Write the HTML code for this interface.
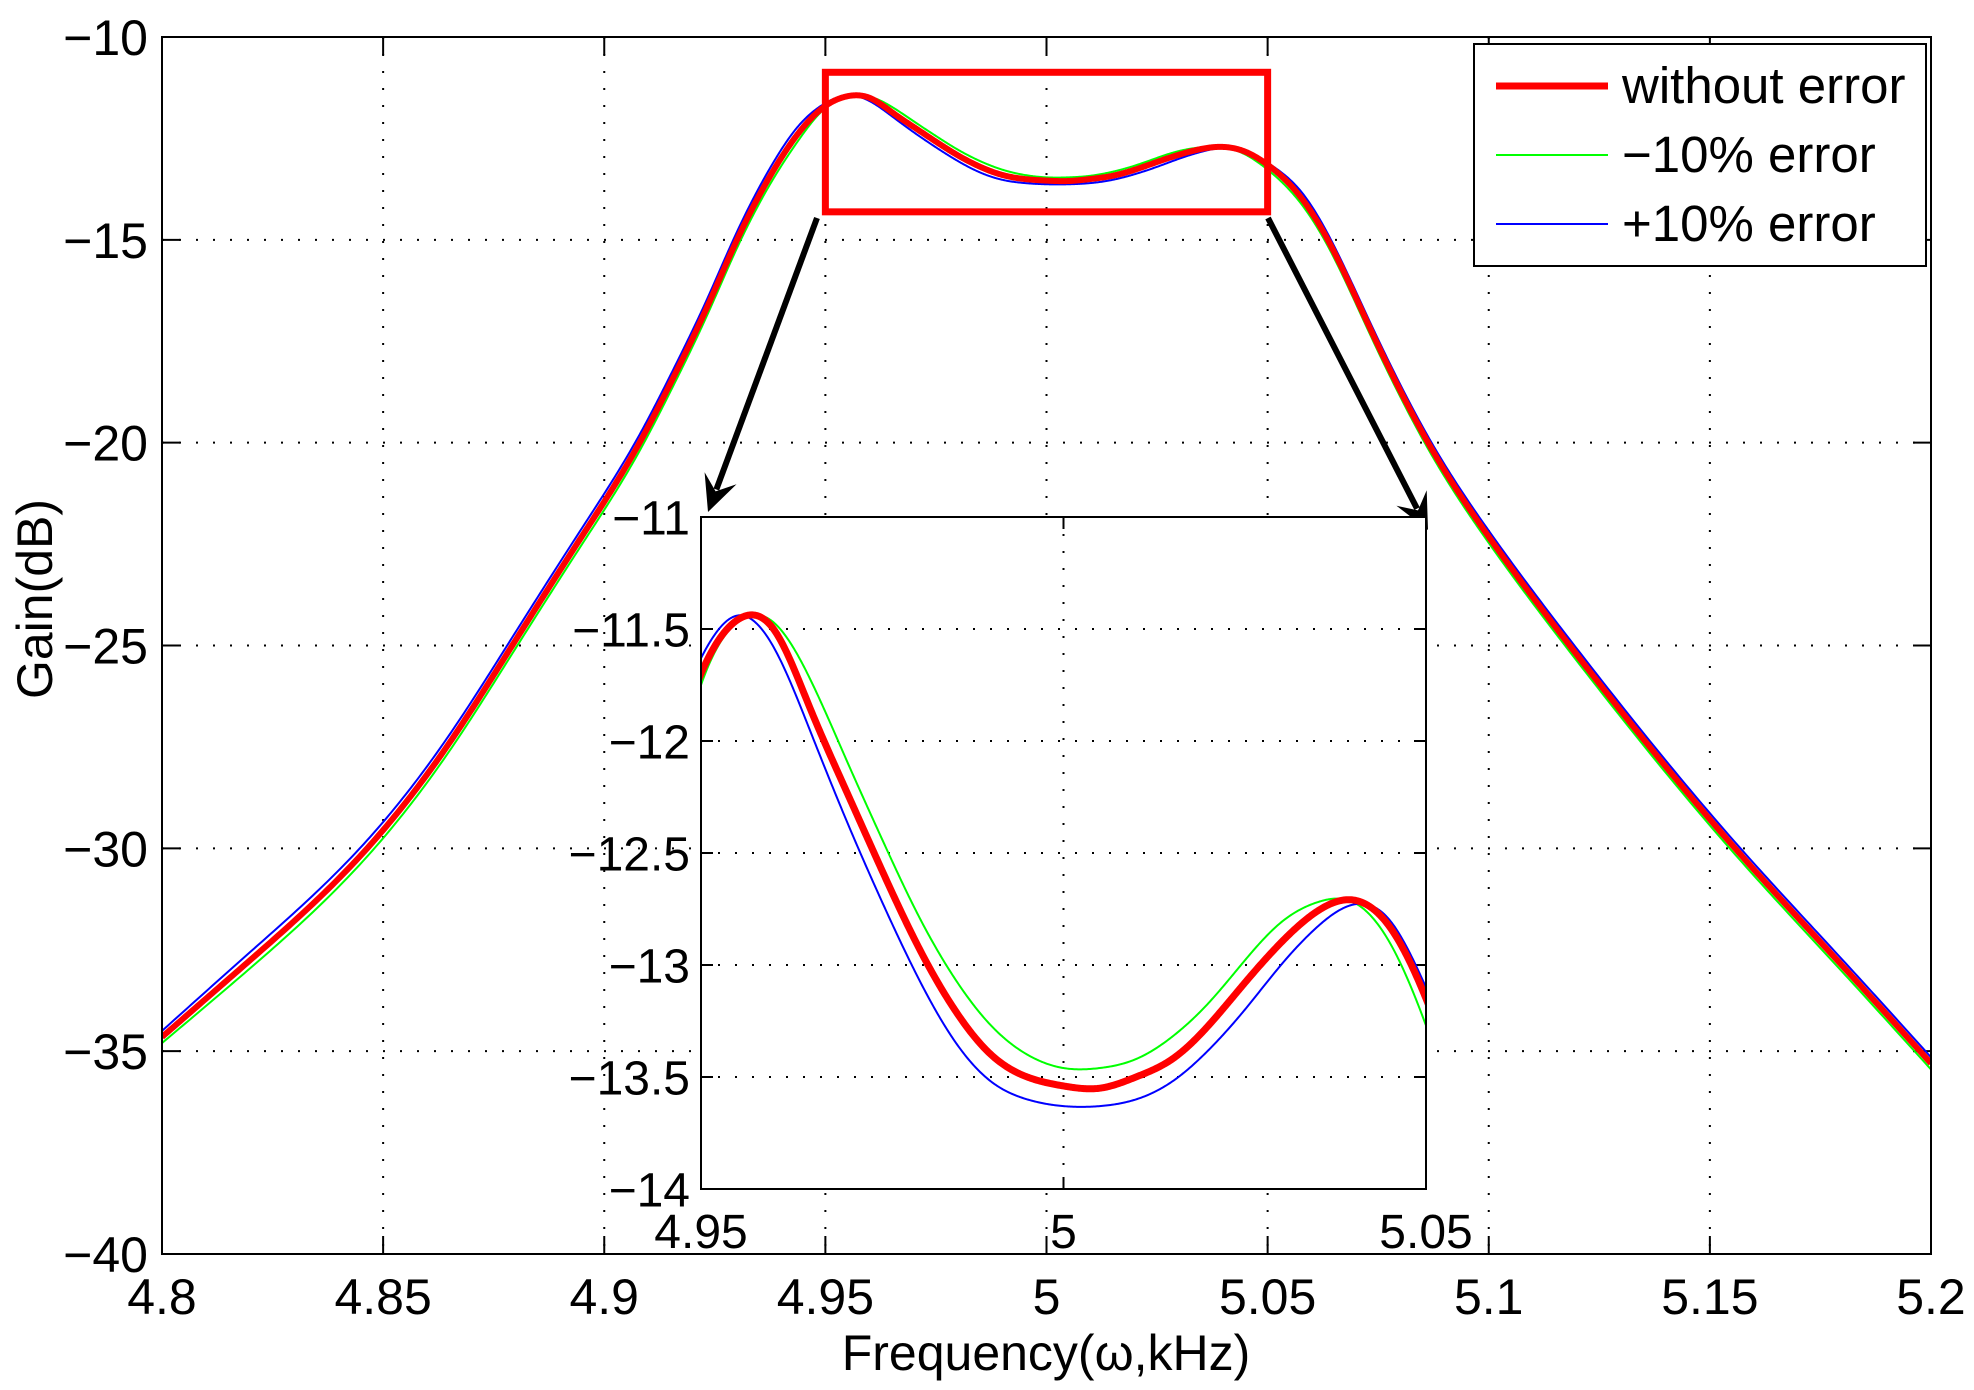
<!DOCTYPE html>
<html><head><meta charset="utf-8"><style>
html,body{margin:0;padding:0;background:#fff;width:1974px;height:1390px;overflow:hidden}
svg{display:block;font-family:"Liberation Sans",Arial,sans-serif}
</style></head><body>
<svg id="chart" width="1974" height="1390" viewBox="0 0 1974 1390" xmlns="http://www.w3.org/2000/svg">
<rect width="1974" height="1390" fill="#fff"/>
<defs>
<clipPath id="mainClip"><rect x="162" y="37" width="1769" height="1217"/></clipPath>
<clipPath id="insetClip"><rect x="701" y="517" width="725" height="672"/></clipPath>
</defs>
<g id="main"></g>
<g id="annot"></g>
<g id="inset"></g>
<g id="legend">
<rect x="1474" y="44" width="452" height="222" fill="#fff" stroke="#000" stroke-width="2"/>
<line x1="1496" y1="86" x2="1608" y2="86" stroke="#ff0000" stroke-width="7"/>
<text x="1622" y="103" font-size="51">without error</text>
<line x1="1496" y1="155" x2="1608" y2="155" stroke="#00ff00" stroke-width="2"/>
<text x="1622" y="172" font-size="51">−10% error</text>
<line x1="1496" y1="224" x2="1608" y2="224" stroke="#0000ff" stroke-width="2"/>
<text x="1622" y="241" font-size="51">+10% error</text>
</g>
<text x="1046" y="1370" font-size="50" text-anchor="middle">Frequency(ω,kHz)</text>
<text x="0" y="0" font-size="50" text-anchor="middle" transform="translate(52,599) rotate(-90)">Gain(dB)</text>
</svg>
<script>
const freq = [4.80,4.82,4.8464,4.865,4.8792,4.895,4.908,4.9156,4.9233,4.9296,4.9382,4.9437,4.95,4.955,4.96,4.965,4.97,4.975,4.98,4.985,4.99,4.995,5.0,5.005,5.01,5.015,5.02,5.025,5.03,5.035,5.04,5.045,5.05,5.0575,5.0636,5.0726,5.0876,5.0989,5.1183,5.1557,5.18,5.20];
const gainNominal = [-34.65,-32.75,-30,-27.4,-25,-22.3,-20.0,-18.4,-16.65,-15.1,-13.3,-12.4,-11.7,-11.46,-11.5,-11.85,-12.22,-12.58,-12.92,-13.2,-13.4,-13.5,-13.54,-13.55,-13.5,-13.42,-13.27,-13.08,-12.9,-12.76,-12.71,-12.83,-13.15,-13.95,-15,-17.05,-20.25,-22.15,-25,-30,-32.9,-35.3];
const gainMinus10 = [-34.8,-32.95,-30.2,-27.6,-25.2,-22.5,-20.2,-18.6,-16.85,-15.3,-13.5,-12.58,-11.75,-11.47,-11.47,-11.72,-12.08,-12.44,-12.78,-13.06,-13.27,-13.4,-13.46,-13.46,-13.42,-13.32,-13.17,-12.98,-12.81,-12.72,-12.72,-12.9,-13.27,-14.1,-15.15,-17.2,-20.4,-22.3,-25.15,-30.15,-33.05,-35.45];
const gainPlus10 = [-34.5,-32.55,-29.8,-27.2,-24.8,-22.1,-19.8,-18.2,-16.45,-14.9,-13.1,-12.22,-11.63,-11.44,-11.58,-11.95,-12.35,-12.72,-13.06,-13.34,-13.52,-13.6,-13.63,-13.63,-13.6,-13.52,-13.38,-13.2,-13.0,-12.83,-12.73,-12.8,-13.1,-13.8,-14.85,-16.9,-20.1,-22.0,-24.85,-29.85,-32.75,-35.15];
const xTicks = [4.8,4.85,4.9,4.95,5,5.05,5.1,5.15,5.2];
const xTickLabels = ["4.8","4.85","4.9","4.95","5","5.05","5.1","5.15","5.2"];
const yTicks = [-10,-15,-20,-25,-30,-35,-40];
const yTickLabels = ["−10","−15","−20","−25","−30","−35","−40"];
const insetXTicks = [4.95,5,5.05];
const insetXTickLabels = ["4.95","5","5.05"];
const insetYTicks = [-11,-11.5,-12,-12.5,-13,-13.5,-14];
const insetYTickLabels = ["−11","−11.5","−12","−12.5","−13","−13.5","−14"];
const zoomBox = [4.95,5.05,-10.87,-14.31];

const NS="http://www.w3.org/2000/svg";
const X=f=>162+(f-4.8)*(1769/0.4);
const Y=g=>37+(-10-g)*(1217/30);
const IX=f=>701+(f-4.95)*(725/0.1);
const IY=g=>517+(-11-g)*(672/3);
function mk(tag,parent,attrs){const e=document.createElementNS(NS,tag);for(const k in attrs)e.setAttribute(k,attrs[k]);parent.appendChild(e);return e;}

function spline(xs,ys,n){
  const m=xs.length,h=[],al=[],l=[1],mu=[0],z=[0],c=new Array(m).fill(0),b=[],d=[];
  for(let i=0;i<m-1;i++)h.push(xs[i+1]-xs[i]);
  for(let i=1;i<m-1;i++)al[i]=3/h[i]*(ys[i+1]-ys[i])-3/h[i-1]*(ys[i]-ys[i-1]);
  for(let i=1;i<m-1;i++){l[i]=2*(xs[i+1]-xs[i-1])-h[i-1]*mu[i-1];mu[i]=h[i]/l[i];z[i]=(al[i]-h[i-1]*z[i-1])/l[i];}
  for(let j=m-2;j>=0;j--){c[j]=(j>0?z[j]:0)-mu[j]*c[j+1];b[j]=(ys[j+1]-ys[j])/h[j]-h[j]*(c[j+1]+2*c[j])/3;d[j]=(c[j+1]-c[j])/(3*h[j]);}
  const out=[];
  for(let i=0;i<m-1;i++){
    for(let k=0;k<n;k++){const t=h[i]*k/n;out.push([xs[i]+t,ys[i]+b[i]*t+c[i]*t*t+d[i]*t*t*t]);}
  }
  out.push([xs[m-1],ys[m-1]]);
  return out;
}
function pathFor(vals,sx,sy){
  return spline(freq,vals,30).map((p,i)=>(i?'L':'M')+sx(p[0]).toFixed(2)+','+sy(p[1]).toFixed(2)).join('');
}

function drawAxes(g,sx,sy,xt,xl,yt,yl,x0,x1,y0,y1,tick,fs,xlabY,ylabX,pre){
  mk('rect',g,{x:x0,y:y0,width:x1-x0,height:y1-y0,fill:'#fff'});
  xt.forEach((v,i)=>{
    const x=sx(v);
    if(x>x0+1&&x<x1-1){
      const gl=mk('line',g,{x1:x,y1:y0,x2:x,y2:y1,stroke:'#000','stroke-width':2,'stroke-dasharray':'2,15'});
      
      
    }
    const t1=mk('line',g,{x1:x,y1:y1,x2:x,y2:y1-tick,stroke:'#000','stroke-width':2});
    
    
    const t2=mk('line',g,{x1:x,y1:y0,x2:x,y2:y0+tick,stroke:'#000','stroke-width':2});
    
    
    const tx=mk('text',g,{x:x,y:xlabY,'font-size':fs,'text-anchor':'middle'});
    tx.textContent=xl[i];
    
    
  });
  yt.forEach((v,i)=>{
    const y=sy(v);
    if(y>y0+1&&y<y1-1){
      const gl=mk('line',g,{x1:x0,y1:y,x2:x1,y2:y,stroke:'#000','stroke-width':2,'stroke-dasharray':'2,15'});
      
      
    }
    const t1=mk('line',g,{x1:x0,y1:y,x2:x0+tick,y2:y,stroke:'#000','stroke-width':2});
    
    
    const t2=mk('line',g,{x1:x1,y1:y,x2:x1-tick,y2:y,stroke:'#000','stroke-width':2});
    
    
    const tx=mk('text',g,{x:ylabX,y:y+fs*0.36,'font-size':fs,'text-anchor':'end'});
    tx.textContent=yl[i];
    
    
  });
}
function drawSeries(g,sx,sy,clip,wRed,wThin){
  const cg=mk('g',g,{'clip-path':'url(#'+clip+')'});
  const a=mk('path',cg,{d:pathFor(gainMinus10,sx,sy),fill:'none',stroke:'#00ff00','stroke-width':wThin,'stroke-linejoin':'round'});
  
  
  const b=mk('path',cg,{d:pathFor(gainPlus10,sx,sy),fill:'none',stroke:'#0000ff','stroke-width':wThin,'stroke-linejoin':'round'});
  
  
  const c=mk('path',cg,{d:pathFor(gainNominal,sx,sy),fill:'none',stroke:'#ff0000','stroke-width':wRed,'stroke-linejoin':'round'});
  
  
}

const main=document.getElementById('main');
drawAxes(main,X,Y,xTicks,xTickLabels,yTicks,yTickLabels,162,1931,37,1254,18,50,1314,148,'main-');
drawSeries(main,X,Y,'mainClip',6,2);
const mf=mk('rect',main,{x:162,y:37,width:1769,height:1217,fill:'none',stroke:'#000','stroke-width':2});



const an=document.getElementById('annot');
const zb=mk('rect',an,{x:X(zoomBox[0]),y:Y(zoomBox[2]),width:X(zoomBox[1])-X(zoomBox[0]),height:Y(zoomBox[3])-Y(zoomBox[2]),fill:'none',stroke:'#ff0000','stroke-width':7});


function arrow(x1,y1,x2,y2,name){
  const dx=x2-x1,dy=y2-y1,L=Math.hypot(dx,dy),ux=dx/L,uy=dy/L,px=-uy,py=ux;
  const bx=x2-ux*24,by=y2-uy*24;
  const ln=mk('line',an,{x1:x1,y1:y1,x2:bx,y2:by,stroke:'#000','stroke-width':6});
  
  
  const hl=36,hw=17;
  const pts=[[x2,y2],[x2-ux*hl+px*hw,y2-uy*hl+py*hw],[x2-ux*22,y2-uy*22],[x2-ux*hl-px*hw,y2-uy*hl-py*hw]];
  const hp=mk('polygon',an,{points:pts.map(p=>p[0].toFixed(1)+','+p[1].toFixed(1)).join(' '),fill:'#000'});
  
  
}
arrow(817,218,708,512,'left-zoom-arrow');
arrow(1268,218,1428,530,'right-zoom-arrow');

const ins=document.getElementById('inset');
drawAxes(ins,IX,IY,insetXTicks,insetXTickLabels,insetYTicks,insetYTickLabels,701,1426,517,1189,12,48,1248,690,'inset-');
drawSeries(ins,IX,IY,'insetClip',7,2);
const inf=mk('rect',ins,{x:701,y:517,width:725,height:672,fill:'none',stroke:'#000','stroke-width':2});


</script>
</body></html>
